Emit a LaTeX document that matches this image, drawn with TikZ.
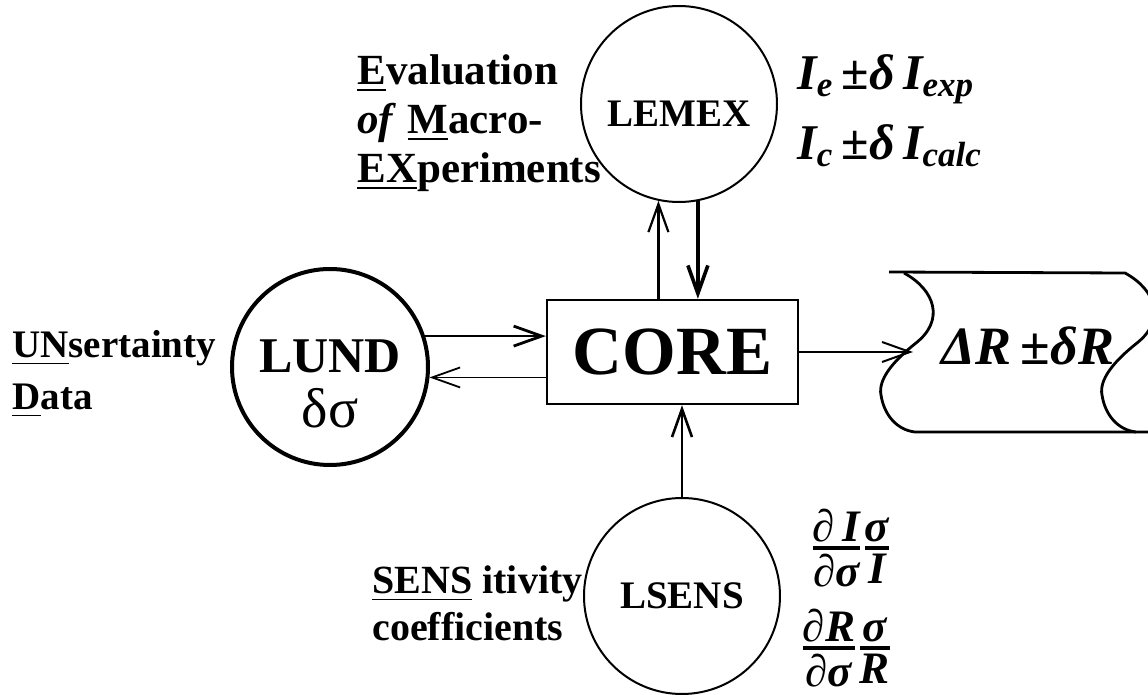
\documentclass[tikz,border=0pt]{standalone}
\usepackage{amsmath}
\usepackage{fontspec}
\setmainfont{Liberation Serif}
\usetikzlibrary{arrows.meta,calc}
\newcommand{\fsz}[2]{\fontsize{#1}{#2}\selectfont}
\newcommand{\keyul}[1]{\underline{#1}}
\newcommand{\lowerby}[2]{\raisebox{-#1}[\height][\depth]{#2}}
\tikzset{
  ring/.style    = {draw, circle, inner sep=0pt, minimum size=98pt,
                    line width=1pt, font=\bfseries\fsz{19.5}{22}},
  corebox/.style = {draw, rectangle, line width=1.2pt, inner sep=0pt,
                    minimum width=125.5pt, minimum height=52pt,
                    font=\bfseries\fsz{34.5}{40}},
  sig/.style     = {-{Straight Barb[length=14pt,width=10pt]}, line width=1.1pt},
  note/.style    = {inner sep=0pt, anchor=north west, align=left},
}

\begin{document}
\begin{tikzpicture}[x=0.5pt,y=-0.5pt]
\useasboundingbox (0,0) rectangle (1148,695);
% ---- modules ----
\node[corebox] (core) at (672.5,352) {CORE};
\node[ring, line width=2pt, font=\bfseries\fsz{25}{27}] (lund) at (330,367)
  {\lowerby{11pt}{\begin{tabular}{@{}c@{}}LUND\\{\mdseries\fsz{28}{27}δσ}\end{tabular}}};
\node[ring] (lemex) at (679,104) {\lowerby{5pt}{LEMEX}};
\node[ring] (lsens) at (682,596) {LSENS};
% ---- side texts ----
\node[note, font=\bfseries\fsz{21.5}{24.5}] (evaltext) at (357,54)
  {\keyul{E}valuation\\\textit{of} \keyul{M}acro-\\\keyul{EX}periments};
\node[note, font=\bfseries\fsz{19.5}{26}] (unstext) at (12,330)
  {\keyul{UN}sertainty\\\keyul{D}ata};
\node[note, font=\bfseries\fsz{20}{23.5}] (senstext) at (372,565)
  {\keyul{SENS} itivity\\coefficients};
\node[note, font=\bfseries\itshape\fsz{25}{35}] (lemexvals) at (797,54)
  {I\textsubscript{e}\,±δ\,I\textsubscript{exp}\\I\textsubscript{c}\,±δ\,I\textsubscript{calc}};
\node[inner sep=0pt, anchor=west, font=\bfseries\itshape\fsz{22.5}{26}] (sensI) at (810,548)
  {$\genfrac{}{}{2pt}{1}{\mbox{∂\,I}}{\mbox{∂σ}}\genfrac{}{}{2pt}{1}{\mbox{σ}}{\mbox{I}}$};
\node[inner sep=0pt, anchor=west, font=\bfseries\itshape\fsz{22.5}{26}] (sensR) at (800,648)
  {$\genfrac{}{}{2pt}{1}{\mbox{∂R}}{\mbox{∂σ}}\genfrac{}{}{2pt}{1}{\mbox{σ}}{\mbox{R}}$};
% ---- result scroll ----
\draw[line width=1.4pt] (889,272) -- (1125,273)
  .. controls (1156,290) and (1166,320) .. (1137,343)
  .. controls (1113,362) and (1099,380) .. (1102,395)
  .. controls (1105,415) and (1118,430) .. (1136,432);
\draw[line width=1.4pt] (904,273)
  .. controls (935,290) and (945,320) .. (916,343)
  .. controls (892,362) and (878,380) .. (881,395)
  .. controls (884,415) and (897,430) .. (915,432) -- (1150,432);
\coordinate (tip) at (913,352);
\node[inner sep=0pt, anchor=base, font=\bfseries\itshape\fsz{27}{30}] (result) at (1028,365) {ΔR\,±δR};
% ---- connectors ----
\draw[sig, line width=1.4pt] (lund.18) -- (lund.18 -| core.west);
\draw[sig, line width=0.9pt] (core.west |- lund.-6) -- (lund.-6);
\draw[sig] (core.north -| lemex.258) -- (lemex.258);
\draw[sig, line width=1.8pt] (lemex.281) -- (lemex.281 |- core.north);
\draw[sig, line width=1.3pt] (lsens.north) -- (lsens.north |- core.south);
\draw[sig, line width=1pt] (core.east) -- (tip);
\end{tikzpicture}
\end{document}
